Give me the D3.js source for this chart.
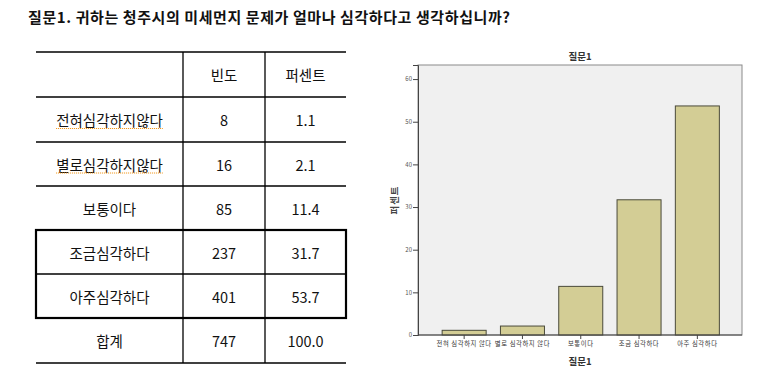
<!DOCTYPE html>
<html>
<head>
<meta charset="utf-8">
<script src="https://cdn.jsdelivr.net/npm/d3@7"></script>
<style>
  html, body { margin: 0; padding: 0; background: #fff; }
  svg { display: block; font-family: "Noto Sans CJK KR", "Noto Sans", sans-serif; }
</style>
</head>
<body>
<svg id="chart" width="777" height="388"></svg>
<script>
// 표 데이터
const rowLabels = ['전혀심각하지않다', '별로심각하지않다', '보통이다', '조금심각하다', '아주심각하다', '합계'];
const freqs = ['8', '16', '85', '237', '401', '747'];
const pcts = ['1.1', '2.1', '11.4', '31.7', '53.7', '100.0'];
const headers = ['', '빈도', '퍼센트'];
const spellFlag = [true, true, false, false, false, false];

// 막대 그래프 데이터
const barLabels = ['전혀 심각하지 않다', '별로 심각하지 않다', '보통이다', '조금 심각하다', '아주 심각하다'];
const barValues = [1.1, 2.1, 11.4, 31.7, 53.7];
const yTicks = [0, 10, 20, 30, 40, 50, 60];

const svg = d3.select('#chart');

// 제목
svg.append('text')
  .attr('x', 28).attr('y', 23)
  .attr('font-size', 15).attr('font-weight', 'bold')
  .attr('fill', '#111')
  .attr('textLength', 482).attr('lengthAdjust', 'spacing')
  .text('질문1. 귀하는 청주시의 미세먼지 문제가 얼마나 심각하다고 생각하십니까?');

// ---------- 표 ----------
const tableX = [36, 183, 265, 346];
const rowY = [52, 97, 142, 186, 230, 274, 318, 363];
const colCenter = i => (tableX[i] + tableX[i + 1]) / 2;
const table = svg.append('g');

// 가로선
rowY.forEach(y => {
  table.append('line')
    .attr('x1', tableX[0]).attr('x2', tableX[3])
    .attr('y1', y).attr('y2', y)
    .attr('stroke', '#000').attr('stroke-width', 1.3);
});
// 세로선
[1, 2].forEach(i => {
  table.append('line')
    .attr('x1', tableX[i]).attr('x2', tableX[i])
    .attr('y1', rowY[0]).attr('y2', rowY[7])
    .attr('stroke', '#000').attr('stroke-width', 1.3);
});
// 굵은 테두리 (조금/아주 심각하다)
table.append('rect')
  .attr('x', tableX[0]).attr('y', rowY[4])
  .attr('width', tableX[3] - tableX[0]).attr('height', rowY[6] - rowY[4])
  .attr('fill', 'none').attr('stroke', '#000').attr('stroke-width', 2.2);

const cellText = (x, y, t) => table.append('text')
  .attr('x', x).attr('y', y)
  .attr('text-anchor', 'middle').attr('dominant-baseline', 'central')
  .attr('font-size', 14.5).attr('fill', '#111')
  .text(t);

headers.forEach((h, i) => cellText(colCenter(i), (rowY[0] + rowY[1]) / 2, h));
rowLabels.forEach((lab, r) => {
  const cy = (rowY[r + 1] + rowY[r + 2]) / 2;
  const t = cellText(colCenter(0), cy, lab);
  cellText(colCenter(1), cy, freqs[r]);
  cellText(colCenter(2), cy, pcts[r]);
  if (spellFlag[r]) {
    const w = t.node().getComputedTextLength();
    table.append('line')
      .attr('x1', colCenter(0) - w / 2).attr('x2', colCenter(0) + w / 2)
      .attr('y1', cy + 9).attr('y2', cy + 9)
      .attr('stroke', '#f08c00').attr('stroke-width', 1)
      .attr('stroke-dasharray', '1,1');
  }
});

// ---------- 막대 그래프 ----------
const plot = { left: 418, right: 742, top: 65, bottom: 335 };

svg.append('rect')
  .attr('x', plot.left).attr('y', plot.top)
  .attr('width', plot.right - plot.left).attr('height', plot.bottom - plot.top)
  .attr('fill', '#f0f0f0').attr('stroke', '#8a8a8a').attr('stroke-width', 1);

const x = d3.scaleBand()
  .domain(barLabels)
  .range([435, 726.5])
  .paddingInner(0.245)
  .paddingOuter(0.1225);

const y = d3.scaleLinear()
  .domain([0, 63.3])
  .range([plot.bottom, plot.top]);

svg.append('g')
  .selectAll('rect')
  .data(barValues)
  .join('rect')
  .attr('x', (d, i) => x(barLabels[i]))
  .attr('y', d => y(d))
  .attr('width', x.bandwidth())
  .attr('height', d => y(0) - y(d))
  .attr('fill', '#d3cd95')
  .attr('stroke', '#4a4a3a').attr('stroke-width', 1);

// y축
const yAxis = svg.append('g')
  .attr('transform', `translate(${plot.left},0)`)
  .call(d3.axisLeft(y).tickValues(yTicks).tickSize(5).tickPadding(1));
yAxis.select('.domain').attr('stroke', '#444');
yAxis.selectAll('.tick line').attr('stroke', '#444');
yAxis.selectAll('.tick text')
  .attr('font-size', 6).attr('fill', '#555')
  .attr('font-family', 'Noto Sans CJK KR, sans-serif');

// x축
const xAxis = svg.append('g')
  .attr('transform', `translate(0,${plot.bottom})`)
  .call(d3.axisBottom(x).tickSize(4).tickPadding(3).tickSizeOuter(0));
xAxis.select('.domain')
  .attr('d', `M${plot.left},0H${plot.right}`)
  .attr('stroke', '#444');
xAxis.selectAll('.tick line').attr('stroke', '#444');
xAxis.selectAll('.tick text')
  .attr('font-size', 6.3).attr('fill', '#333')
  .attr('letter-spacing', 0.6)
  .attr('font-family', 'Noto Sans CJK KR, sans-serif');

// 제목 / 축 제목
svg.append('text')
  .attr('x', (plot.left + plot.right) / 2).attr('y', 60)
  .attr('text-anchor', 'middle')
  .attr('font-size', 9.5).attr('font-weight', 'bold').attr('fill', '#333')
  .text('질문1');

svg.append('text')
  .attr('x', (plot.left + plot.right) / 2).attr('y', 365)
  .attr('text-anchor', 'middle')
  .attr('font-size', 9.5).attr('font-weight', 'bold').attr('fill', '#333')
  .text('질문1');

svg.append('text')
  .attr('transform', `translate(398,${(plot.top + plot.bottom) / 2}) rotate(-90)`)
  .attr('text-anchor', 'middle')
  .attr('font-size', 9.5).attr('font-weight', 'bold').attr('fill', '#444')
  .attr('letter-spacing', 1)
  .text('퍼센트');
</script>
</body>
</html>
